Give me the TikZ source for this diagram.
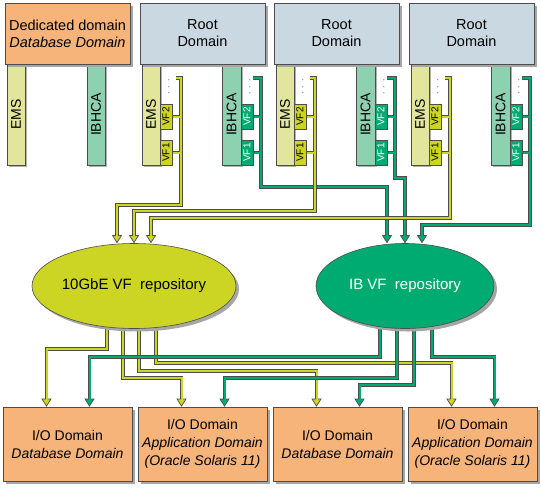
\documentclass[tikz,border=0pt]{standalone}
\usepackage{fontspec}
\setmainfont{Liberation Sans}
\usetikzlibrary{shapes.geometric,arrows.meta,shadows,backgrounds}

\definecolor{orng}{HTML}{F6B47B}
\definecolor{rootc}{HTML}{CAD9E1}
\definecolor{emsc}{HTML}{E2E59C}
\definecolor{ibc}{HTML}{8ED1B1}
\definecolor{lime}{HTML}{CCD524}
\definecolor{grn}{HTML}{00AB72}
\definecolor{edge}{HTML}{4D4D4D}

\tikzset{
  dombox/.style={draw=edge, line width=0.6pt, minimum width=125pt, minimum height=61pt,
    inner sep=2pt, align=center, font=\fontsize{14.5}{17}\selectfont,
    general shadow={fill=black!35, shadow xshift=3pt, shadow yshift=-3pt}},
  iobox/.style={dombox, fill=orng, minimum width=129pt, minimum height=74pt,
    font=\fontsize{14}{18}\selectfont},
  card/.style={draw=edge, line width=0.5pt, minimum width=18pt, minimum height=101pt,
    inner sep=0pt, font=\fontsize{14}{15}\selectfont,
    general shadow={fill=black!30, shadow xshift=2pt, shadow yshift=-2pt}},
  vfbox/.style={draw=edge, line width=0.5pt, minimum width=12pt, minimum height=25pt,
    inner sep=0pt, font=\fontsize{10}{11}\selectfont},
  dots/.style={inner sep=0pt, text=edge, font=\fontsize{9}{10}\selectfont},
  repo/.style={ellipse, draw=edge, line width=0.6pt, minimum width=178pt, minimum height=85pt,
    inner sep=0pt, font=\fontsize{15}{17}\selectfont,
    general shadow={fill=black!35, shadow xshift=3pt, shadow yshift=-3pt}},
  ybus/.style={draw=edge, line width=3.6pt,
    -{Triangle[length=8pt, width=10pt, line width=0.7pt, fill=lime]},
    postaction={draw=lime, line width=2pt, -, shorten >=7pt}},
  gbus/.style={draw=edge, line width=3.6pt,
    -{Triangle[length=8pt, width=10pt, line width=0.7pt, fill=grn]},
    postaction={draw=grn, line width=2pt, -, shorten >=7pt}}
}

\begin{document}
\begin{tikzpicture}[x=1pt, y=-1pt]
  \useasboundingbox (0,0) rectangle (541,488);

  % Dedicated domain with its two cards
  \node[card, fill=emsc] (ems0) at (16,114.5) {\rotatebox{90}{EMS}};
  \node[card, fill=ibc] (ib0) at (96,114.5) {\rotatebox{90}{IBHCA}};
  \node[dombox, fill=orng] (ded) at (67.5,33.5) {Dedicated domain\\\textit{Database Domain}};

  % Root domains with EMS and IBHCA cards and their VFs
  \foreach \i/\ox in {1/140,2/274,3/409}{
    \node[card, fill=emsc] (ems\i) at (\ox+11,114.5) {\rotatebox{90}{EMS}};
    \node[vfbox, fill=lime] (evfb\i) at (\ox+26,116.5) {\rotatebox{90}{VF2}};
    \node[vfbox, fill=lime] (evfa\i) at (\ox+26,152.5) {\rotatebox{90}{VF1}};
    \node[dots] (edot\i) at (\ox+29,87) {\rotatebox{90}{.\hspace{4pt}.\hspace{4pt}.}};
    \node[card, fill=ibc, minimum width=19pt] (ib\i) at (\ox+91.5,114.5) {\rotatebox{90}{IBHCA}};
    \node[vfbox, fill=grn, text=white] (ivfb\i) at (\ox+107,116.5) {\rotatebox{90}{VF2}};
    \node[vfbox, fill=grn, text=white] (ivfa\i) at (\ox+107,152.5) {\rotatebox{90}{VF1}};
    \node[dots] (idot\i) at (\ox+110,87) {\rotatebox{90}{.\hspace{4pt}.\hspace{4pt}.}};
    \node[dombox, fill=rootc] (root\i) at (\ox+62.5,33.5) {Root\\Domain};
    \coordinate (etop\i) at (\ox+36,78);
    \coordinate (ebus\i) at (\ox+41,78);
    \coordinate (itop\i) at (\ox+113,78);
    \coordinate (ibus\i) at (\ox+121,78);
  }

  % The two VF repositories
  \node[repo, fill=lime] (gbe) at (134,286) {10GbE VF\ \ repository};
  \node[repo, fill=grn, text=white] (ibr) at (405,286) {IB VF\ \ repository};

  % I/O domains
  \node[iobox] (io1) at (67.5,444) {I/O Domain\\\textit{Database Domain}};
  \node[iobox] (io2) at (202.5,444) {I/O Domain\\\textit{Application Domain}\\\textit{(Oracle Solaris 11)}};
  \node[iobox] (io3) at (337.5,444) {I/O Domain\\\textit{Database Domain}};
  \node[iobox] (io4) at (472.5,444) {I/O Domain\\\textit{Application Domain}\\\textit{(Oracle Solaris 11)}};

  % Entry and exit points
  \coordinate (gin1) at ([xshift=-17pt]gbe.north);
  \coordinate (gin2) at (gbe.north);
  \coordinate (gin3) at ([xshift=17pt]gbe.north);
  \coordinate (iin1) at ([xshift=-18pt]ibr.north);
  \coordinate (iin2) at (ibr.north);
  \coordinate (iin3) at ([xshift=17pt]ibr.north);
  \foreach \t in {1,2,3,4}{
    \coordinate (oy\t) at ([xshift=-21pt]io\t.north);
    \coordinate (og\t) at ([xshift=22pt]io\t.north);
  }

  \begin{scope}[on background layer]
    % VFs up to the repositories
    \foreach \i/\ey/\gy in {1/205/187,2/211/178,3/218/225}{
      \draw[gbus] (ivfb\i.east) -- (ivfb\i.east -| ibus\i) (ivfa\i.east) -- (ivfa\i.east -| ibus\i)
        (itop\i) -- (ibus\i) -- ++(0,\gy-78) -| (iin\i);
      \draw[ybus] (evfb\i.east) -- (evfb\i.east -| ebus\i) (evfa\i.east) -- (evfa\i.east -| ebus\i)
        (etop\i) -- (ebus\i) -- ++(0,\ey-78) -| (gin\i);
    }

    % Repositories down to the I/O domains
    \foreach \t/\dx/\dy in {1/-27/63,2/-11/92,3/5/85,4/22/77}
      \draw[ybus] ([xshift=\dx pt]gbe.center) -- ++(0,\dy) -| (oy\t);
    \foreach \t/\dx/\dy in {1/-25/71,2/-8/92,3/9/99,4/27/71}
      \draw[gbus] ([xshift=\dx pt]ibr.center) -- ++(0,\dy) -| (og\t);
  \end{scope}
\end{tikzpicture}
\end{document}
